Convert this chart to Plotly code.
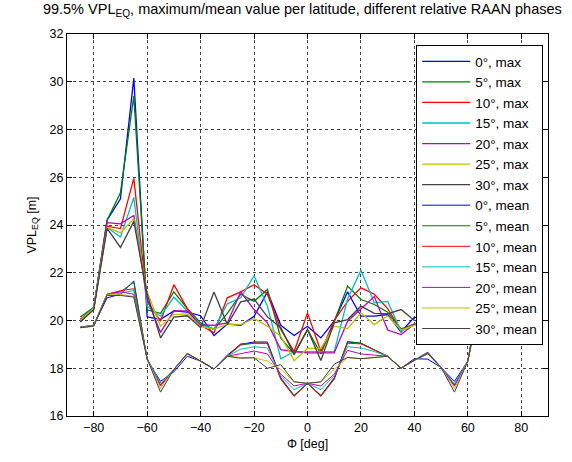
import plotly.graph_objects as go

lat = [-85, -80, -75, -70, -65, -60, -55, -50, -45, -40, -35, -30, -25, -20, -15, -10, -5, 0,
       5, 10, 15, 20, 25, 30, 35, 40, 45, 50, 55, 60, 65, 70, 75, 80, 85]

phases = ["0°", "5°", "10°", "15°", "20°", "25°", "30°"]
colors = ["#0000ff", "#008000", "#ff0000", "#00bfbf", "#bf00bf", "#bfbf00", "#404040"]

max_0 = [19.95, 20.5, 24.2, 25.1, 30.15, 20.15, 20.05, 20.4, 20.35, 20.2, 19.37, 19.85, 19.8, 20.18, 21.2, 19.8, 19.37, 19.76,
         19.27, 19.97, 21.2, 20.18, 20.18, 20.25, 19.52, 20.14, 20.0, 20.3, 19.9, 20.2, 29.5, 25.0, 24.0, 20.5, 20.0]
max_5 = [20.15, 20.55, 24.2, 25.35, 29.4, 20.45, 20.3, 21.2, 20.5, 19.9, 19.63, 20.3, 21.1, 20.8, 21.3, 19.27, 18.6, 19.62,
         18.6, 19.95, 21.44, 20.88, 20.67, 20.35, 19.65, 19.85, 19.9, 20.4, 20.1, 20.4, 28.8, 25.2, 24.1, 20.5, 20.1]
max_10 = [20.05, 20.5, 23.95, 23.85, 25.95, 20.8, 19.97, 21.5, 20.5, 19.8, 19.48, 20.95, 21.2, 21.5, 21.1, 19.62, 18.7, 20.32,
          18.7, 20.0, 20.8, 21.37, 21.1, 20.5, 19.6, 19.85, 20.0, 21.3, 20.0, 20.7, 25.5, 23.9, 24.0, 20.5, 20.0]
max_15 = [20.0, 20.55, 23.9, 23.5, 25.15, 20.6, 20.18, 20.98, 20.4, 19.85, 19.63, 20.7, 20.95, 21.87, 20.6, 18.4, 18.7, 18.7,
          18.7, 18.7, 20.9, 22.1, 20.74, 20.8, 19.55, 19.85, 20.0, 20.9, 20.2, 20.6, 25.0, 23.6, 23.9, 20.5, 20.0]
max_20 = [20.0, 20.5, 24.1, 24.05, 24.4, 20.9, 19.5, 20.4, 20.4, 19.8, 19.8, 19.9, 21.2, 20.46, 19.9, 18.78, 18.7, 18.64,
          18.64, 18.64, 19.97, 20.5, 21.0, 19.6, 19.41, 19.85, 19.9, 20.4, 19.5, 20.9, 24.3, 24.0, 24.1, 20.5, 20.0]
max_25 = [20.0, 20.5, 23.9, 23.68, 24.25, 21.2, 19.76, 20.25, 20.28, 19.75, 19.63, 19.85, 19.83, 20.08, 19.76, 19.34, 18.32, 18.83,
          18.83, 19.76, 19.66, 20.32, 19.83, 20.2, 19.6, 19.8, 19.9, 20.2, 19.7, 21.1, 24.2, 23.7, 23.9, 20.5, 20.0]
max_30 = [19.95, 20.45, 23.86, 23.06, 24.15, 21.1, 19.27, 20.14, 20.2, 19.7, 21.19, 19.83, 20.78, 20.9, 20.15, 19.7, 18.57, 19.62,
          18.32, 19.9, 20.04, 20.6, 20.3, 20.28, 20.46, 20.0, 19.9, 20.1, 19.3, 21.0, 24.1, 23.1, 23.8, 20.4, 19.9]

mean_0 = [19.72, 19.79, 20.95, 21.1, 21.66, 18.35, 17.45, 17.85, 18.5, 18.3, 17.97, 18.55, 19.0, 19.1, 19.1, 17.6, 16.85, 17.37,
          16.85, 17.6, 19.1, 19.05, 18.77, 18.5, 18.0, 18.4, 18.38, 18.03, 17.45, 18.3, 21.6, 21.1, 20.95, 19.79, 19.72]
mean_5 = [19.72, 19.8, 21.1, 21.2, 21.6, 18.4, 17.3, 17.95, 18.6, 18.3, 17.97, 18.5, 18.97, 19.05, 19.05, 17.55, 16.87, 17.37,
          16.87, 17.55, 19.12, 19.05, 18.77, 18.5, 18.0, 18.34, 18.6, 18.03, 17.3, 18.3, 21.55, 21.2, 21.1, 19.8, 19.72]
mean_10 = [19.72, 19.8, 21.1, 21.25, 21.33, 18.4, 17.3, 17.95, 18.6, 18.3, 17.97, 18.5, 19.02, 19.05, 19.05, 17.54, 16.82, 17.37,
           16.82, 17.54, 19.05, 19.02, 18.77, 18.5, 18.0, 18.34, 18.66, 18.03, 17.3, 18.3, 21.3, 21.25, 21.1, 19.8, 19.72]
mean_15 = [19.72, 19.8, 21.1, 21.15, 21.25, 18.4, 17.38, 17.95, 18.62, 18.3, 17.97, 18.5, 18.8, 18.9, 18.85, 17.68, 17.1, 17.37,
           17.1, 17.68, 18.9, 18.85, 18.7, 18.5, 18.0, 18.34, 18.68, 18.03, 17.35, 18.3, 21.2, 21.15, 21.1, 19.8, 19.72]
mean_20 = [19.7, 19.76, 21.1, 21.2, 21.1, 18.4, 17.25, 17.95, 18.62, 18.3, 17.97, 18.5, 18.6, 18.72, 18.6, 17.75, 17.26, 17.37,
           17.26, 17.75, 18.75, 18.6, 18.55, 18.5, 18.0, 18.34, 18.66, 18.03, 17.25, 18.3, 21.1, 21.2, 21.1, 19.76, 19.7]
mean_25 = [19.7, 19.78, 21.1, 21.1, 21.0, 18.4, 17.15, 17.95, 18.6, 18.3, 17.97, 18.5, 18.45, 18.44, 18.3, 17.96, 17.43, 17.37,
           17.43, 17.96, 18.45, 18.4, 18.45, 18.5, 18.0, 18.34, 18.62, 18.03, 17.15, 18.3, 21.0, 21.1, 21.1, 19.78, 19.7]
mean_30 = [19.7, 19.77, 21.05, 21.05, 20.98, 18.4, 17.0, 17.95, 18.62, 18.3, 17.97, 18.5, 18.42, 18.44, 18.0, 18.15, 17.43, 17.37,
           17.43, 18.17, 18.45, 18.4, 18.45, 18.5, 18.0, 18.34, 18.62, 18.03, 17.0, 18.3, 20.98, 21.05, 21.05, 19.77, 19.7]

max_series = [max_0, max_5, max_10, max_15, max_20, max_25, max_30]
mean_series = [mean_0, mean_5, mean_10, mean_15, mean_20, mean_25, mean_30]

font = "Arial, Liberation Sans, sans-serif"
fig = go.Figure()
for name, col, ys in zip(phases, colors, max_series):
    fig.add_trace(go.Scatter(x=lat, y=ys, mode="lines", name=f"{name}, max",
                             line=dict(color=col, width=1.3)))
for name, col, ys in zip(phases, colors, mean_series):
    fig.add_trace(go.Scatter(x=lat, y=ys, mode="lines", name=f"{name}, mean",
                             line=dict(color=col, width=1)))

axis_common = dict(
    showline=True, linecolor="black", linewidth=1, mirror="allticks",
    ticks="inside", ticklen=5, tickcolor="black",
    showgrid=True, gridcolor="#444444", griddash="dot", gridwidth=1,
    zeroline=False, tickfont=dict(family=font, size=12.5, color="black"),
)

fig.update_layout(
    width=572, height=462,
    margin=dict(l=67, r=24, t=34, b=46),
    paper_bgcolor="white", plot_bgcolor="white",
    font=dict(family=font, size=12.5, color="black"),
    title=dict(text="99.5% VPL<sub>EQ</sub>, maximum/mean value per latitude, different relative RAAN phases",
               xref="container", x=0.075, xanchor="left", y=0.992, yanchor="top",
               font=dict(family=font, size=14.5, color="black")),
    xaxis=dict(range=[-90, 90], tickvals=[-80, -60, -40, -20, 0, 20, 40, 60, 80],
               title=dict(text="Φ [deg]", standoff=5, font=dict(family=font, size=12.5)), **axis_common),
    yaxis=dict(range=[16, 32], tickvals=list(range(16, 33, 2)),
               title=dict(text="VPL<sub>EQ</sub> [m]", standoff=10, font=dict(family=font, size=12.5)), **axis_common),
    legend=dict(x=0.99, xanchor="right", y=0.971, yanchor="top",
                bgcolor="white", bordercolor="black", borderwidth=1,
                font=dict(family=font, size=13.5, color="black"),
                itemwidth=48, tracegroupgap=0),
    showlegend=True,
)

fig.write_html("out.html")
